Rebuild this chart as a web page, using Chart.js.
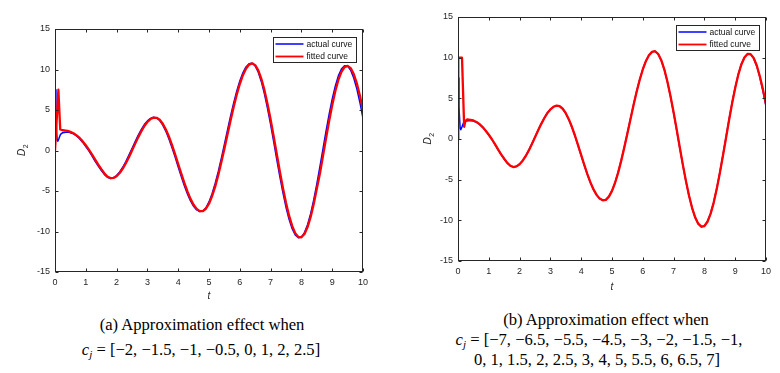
<!DOCTYPE html>
<html>
<head>
<meta charset="utf-8">
<script src="https://cdn.jsdelivr.net/npm/chart.js@4.4.1/dist/chart.umd.min.js"></script>
<style>
  html, body { margin: 0; padding: 0; background: #ffffff; }
  #wrap { position: relative; width: 780px; height: 373px; overflow: hidden; background: #fff; }
  canvas { position: absolute; top: 0; }
  #cA { left: 0; }
  #cB { left: 390px; }
  .cap { position: absolute; font-family: "Liberation Serif", "Times New Roman", serif; font-size: 16.6px; color: #000; white-space: nowrap; transform: translateX(-50%); line-height: 20px; text-align: center; }
  .cap i { font-style: italic; }
  .cap sub { font-size: 11px; vertical-align: -3px; line-height: 0; }
</style>
</head>
<body>
<div id="wrap">
  <canvas id="cA" width="390" height="305"></canvas>
  <canvas id="cB" width="390" height="300"></canvas>
  <div class="cap" style="left:202px; top:315px;">(a) Approximation effect when</div>
  <div class="cap" style="left:201px; top:340px;"><i>c<sub>j</sub></i> = [−2, −1.5, −1, −0.5, 0, 1, 2, 2.5]</div>
  <div class="cap" style="left:606px; top:310px;">(b) Approximation effect when</div>
  <div class="cap" style="left:599px; top:330px;"><i>c<sub>j</sub></i> = [−7, −6.5, −5.5, −4.5, −3, −2, −1.5, −1,</div>
  <div class="cap" style="left:597px; top:350px;">0, 1, 1.5, 2, 2.5, 3, 4, 5, 5.5, 6, 6.5, 7]</div>
</div>
<script>
// ---------- data ----------
const xTicks = [0, 1, 2, 3, 4, 5, 6, 7, 8, 9, 10];
const yTicks = [-15, -10, -5, 0, 5, 10, 15];
const seriesNames = ["actual curve", "fitted curve"];

// start transient (t < 0.5)
const tStartActual = [0, 0.03, 0.07, 0.09, 0.13, 0.18, 0.25, 0.35, 0.45];
const actualStart = [7.5, 4.0, 1.3, 1.15, 1.5, 2.0, 2.2, 2.25, 2.25];
const tStartFitA = [0, 0.11, 0.17, 0.25, 0.35, 0.45];
const fitAStart = [0, 7.5, 2.6, 2.5, 2.45, 2.38];
const tStartFitB = [0, 0.01, 0.13, 0.2, 0.24, 0.3, 0.4];
const fitBStart = [0, 10, 10, 1.5, 2.2, 2.4, 2.35];

// main part, t = 0.5 ... 10.0
const tMain = [0.5,0.6,0.7,0.8,0.9,1.0,1.1,1.2,1.3,1.4,
  1.5,1.6,1.7,1.8,1.9,2.0,2.1,2.2,2.3,2.4,
  2.5,2.6,2.7,2.8,2.9,3.0,3.1,3.2,3.3,3.4,
  3.5,3.6,3.7,3.8,3.9,4.0,4.1,4.2,4.3,4.4,
  4.5,4.6,4.7,4.8,4.9,5.0,5.1,5.2,5.3,5.4,
  5.5,5.6,5.7,5.8,5.9,6.0,6.1,6.2,6.3,6.4,
  6.5,6.6,6.7,6.8,6.9,7.0,7.1,7.2,7.3,7.4,
  7.5,7.6,7.7,7.8,7.9,8.0,8.1,8.2,8.3,8.4,
  8.5,8.6,8.7,8.8,8.9,9.0,9.1,9.2,9.3,9.4,
  9.5,9.6,9.7,9.8,9.9,10.0];

const actual = [2.2,2.05,1.8,1.45,1.0,0.5,-0.05,-0.65,-1.3,-1.9,
  -2.45,-2.95,-3.3,-3.45,-3.36,-3.09,-2.65,-2.07,-1.37,-0.58,
  0.24,1.07,1.86,2.58,3.2,3.66,3.97,4.1,4.02,3.7,
  3.14,2.37,1.43,0.35,-0.82,-2.03,-3.22,-4.35,-5.37,-6.23,
  -6.89,-7.34,-7.54,-7.47,-7.07,-6.35,-5.34,-4.08,-2.61,-0.97,
  0.75,2.5,4.23,5.85,7.33,8.59,9.6,10.32,10.72,10.78,
  10.43,9.66,8.5,7.0,5.21,3.22,1.09,-1.09,-3.22,-5.21,
  -7.0,-8.5,-9.66,-10.43,-10.78,-10.69,-10.14,-9.16,-7.8,-6.1,
  -4.15,-2.02,0.18,2.38,4.46,6.34,7.95,9.21,10.05,10.46,
  10.42,9.91,8.96,7.61,5.93,3.98];

const fittedA = [2.3,2.12,1.87,1.55,1.13,0.65,0.11,-0.47,-1.1,-1.72,
  -2.28,-2.8,-3.2,-3.4,-3.39,-3.17,-2.78,-2.24,-1.58,-0.82,
  -0.01,0.82,1.62,2.36,3.01,3.52,3.88,4.06,4.04,3.8,
  3.31,2.6,1.71,0.67,-0.47,-1.67,-2.86,-4.01,-5.06,-5.97,
  -6.69,-7.2,-7.48,-7.49,-7.19,-6.57,-5.64,-4.46,-3.05,-1.46,
  0.23,1.98,3.71,5.36,6.89,8.21,9.3,10.1,10.6,10.76,
  10.54,9.89,8.85,7.45,5.75,3.82,1.73,-0.44,-2.58,-4.61,
  -6.46,-8.05,-9.31,-10.2,-10.68,-10.72,-10.31,-9.45,-8.21,-6.61,
  -4.74,-2.87,-0.7,1.5,3.63,5.59,7.31,8.71,9.71,10.3,
  10.44,10.17,9.44,8.29,6.77,4.96];

const fittedB = [2.28,2.1,1.82,1.47,1.02,0.52,-0.03,-0.63,-1.28,-1.88,
  -2.43,-2.93,-3.29,-3.45,-3.37,-3.1,-2.67,-2.09,-1.4,-0.61,
  0.21,1.04,1.83,2.55,3.18,3.64,3.96,4.1,4.03,3.72,
  3.17,2.41,1.47,0.4,-0.78,-1.99,-3.18,-4.31,-5.33,-6.2,
  -6.87,-7.33,-7.54,-7.48,-7.09,-6.38,-5.38,-4.13,-2.66,-1.03,
  0.69,2.44,4.18,5.8,7.28,8.55,9.57,10.3,10.71,10.79,
  10.45,9.69,8.54,7.05,5.27,3.29,1.16,-1.02,-3.15,-5.15,
  -6.95,-8.46,-9.63,-10.41,-10.78,-10.7,-10.17,-9.2,-7.85,-6.16,
  -4.22,-2.09,0.1,2.3,4.39,6.28,7.9,9.17,10.03,10.46,
  10.44,9.96,9.03,7.7,6.1,4.3];

// ---------- helpers ----------
function pts(ts, vs) { return ts.map((t, i) => ({ x: t, y: vs[i] })); }

const TICK_FONT = { family: "'Liberation Sans', Arial, sans-serif", size: 9 };
const TEXT_COL = '#262626';

const matlabPlugin = {
  id: 'matlab',
  afterDatasetsDraw(chart, args, opts) {
    const { ctx, chartArea: a, scales: { x, y } } = chart;
    ctx.save();
    const L = Math.round(a.left) + 0.5, R = Math.round(a.right) - 0.5;
    const T = Math.round(a.top) + 0.5, B = Math.round(a.bottom) - 0.5;
    ctx.strokeStyle = '#262626';
    ctx.lineWidth = 1;
    ctx.strokeRect(L, T, R - L, B - T);
    ctx.beginPath();
    const tl = 3;
    xTicks.forEach(v => {
      const px = Math.round(x.getPixelForValue(v)) + 0.5;
      ctx.moveTo(px, B); ctx.lineTo(px, B - tl);
      ctx.moveTo(px, T); ctx.lineTo(px, T + tl);
    });
    yTicks.forEach(v => {
      const py = Math.round(y.getPixelForValue(v)) + 0.5;
      ctx.moveTo(L, py); ctx.lineTo(L + tl, py);
      ctx.moveTo(R, py); ctx.lineTo(R - tl, py);
    });
    ctx.stroke();

    // legend box
    const lw = 83, lh = 25;
    const lx = Math.round(a.right) - 7 - lw + 0.5, ly = Math.round(a.top) + 8 + 0.5;
    ctx.fillStyle = '#ffffff';
    ctx.fillRect(lx, ly, lw, lh);
    ctx.strokeStyle = '#262626';
    ctx.lineWidth = 1;
    ctx.strokeRect(lx, ly, lw, lh);
    ctx.font = "8.5px 'Liberation Sans', Arial, sans-serif";
    ctx.textBaseline = 'middle';
    ctx.textAlign = 'left';
    const legendSets = [chart.data.datasets[1], chart.data.datasets[0]];
    legendSets.forEach((ds, i) => {
      const yy = ly + 6.5 + i * 12.5;
      ctx.strokeStyle = ds.borderColor;
      ctx.lineWidth = i === 0 ? 1.5 : 1.8;
      ctx.beginPath();
      ctx.moveTo(lx + 2, yy); ctx.lineTo(lx + 30, yy);
      ctx.stroke();
      ctx.fillStyle = '#111';
      ctx.fillText(ds.label, lx + 33, yy + 0.5);
    });

    // axis titles
    ctx.fillStyle = TEXT_COL;
    ctx.textAlign = 'center';
    ctx.textBaseline = 'middle';
    ctx.font = "italic 10px 'Liberation Sans', Arial, sans-serif";
    ctx.fillText('t', (a.left + a.right) / 2, a.bottom + opts.tTitleOffset);

    const cy = (a.top + a.bottom) / 2;
    ctx.translate(a.left - opts.dTitleOffset, cy);
    ctx.rotate(-Math.PI / 2);
    ctx.textAlign = 'left';
    ctx.font = "italic 10px 'Liberation Sans', Arial, sans-serif";
    const dW = ctx.measureText('D').width;
    ctx.font = "7px 'Liberation Sans', Arial, sans-serif";
    const sW = ctx.measureText('2').width;
    const start = -(dW + sW) / 2;
    ctx.font = "italic 10px 'Liberation Sans', Arial, sans-serif";
    ctx.fillText('D', start, 0);
    ctx.font = "7px 'Liberation Sans', Arial, sans-serif";
    ctx.fillText('2', start + dW + 0.5, 4);
    ctx.restore();
  }
};

function makeChart(id, fitStartT, fitStartV, fitMain, pad, xH, yW, tOff, dOff) {
  return new Chart(document.getElementById(id), {
    type: 'line',
    data: {
      datasets: [
        {
          label: seriesNames[1],
          data: pts(fitStartT.concat(tMain), fitStartV.concat(fitMain)),
          borderColor: '#ff0000',
          borderWidth: 2.3,
          order: 0
        },
        {
          label: seriesNames[0],
          data: pts(tStartActual.concat(tMain), actualStart.concat(actual)),
          borderColor: '#0000ff',
          borderWidth: 1.5,
          order: 1
        }
      ]
    },
    options: {
      responsive: false,
      animation: false,
      devicePixelRatio: 1,
      layout: { padding: pad },
      elements: { point: { radius: 0 }, line: { tension: 0, borderJoinStyle: 'round', borderCapStyle: 'round' } },
      plugins: {
        legend: { display: false },
        tooltip: { enabled: false },
        matlab: { tTitleOffset: tOff, dTitleOffset: dOff }
      },
      scales: {
        x: {
          type: 'linear', min: 0, max: 10,
          afterBuildTicks(s) { s.ticks = xTicks.map(v => ({ value: v })); },
          ticks: { color: TEXT_COL, font: TICK_FONT, padding: 5, maxRotation: 0, autoSkip: false },
          grid: { display: false, drawTicks: false },
          border: { display: false },
          afterFit(s) { s.height = xH; }
        },
        y: {
          type: 'linear', min: -15, max: 15,
          afterBuildTicks(s) { s.ticks = yTicks.map(v => ({ value: v })); },
          ticks: { color: TEXT_COL, font: TICK_FONT, padding: 5, autoSkip: false },
          grid: { display: false, drawTicks: false },
          border: { display: false },
          afterFit(s) { s.width = yW; }
        }
      }
    },
    plugins: [matlabPlugin]
  });
}

makeChart('cA', tStartFitA, fitAStart, fittedA, { left: 0, right: 27, top: 29, bottom: 0 }, 33, 55, 24, 33);
makeChart('cB', tStartFitB, fitBStart, fittedB, { left: 0, right: 14, top: 17, bottom: 0 }, 39, 68, 26, 30);
</script>
</body>
</html>
